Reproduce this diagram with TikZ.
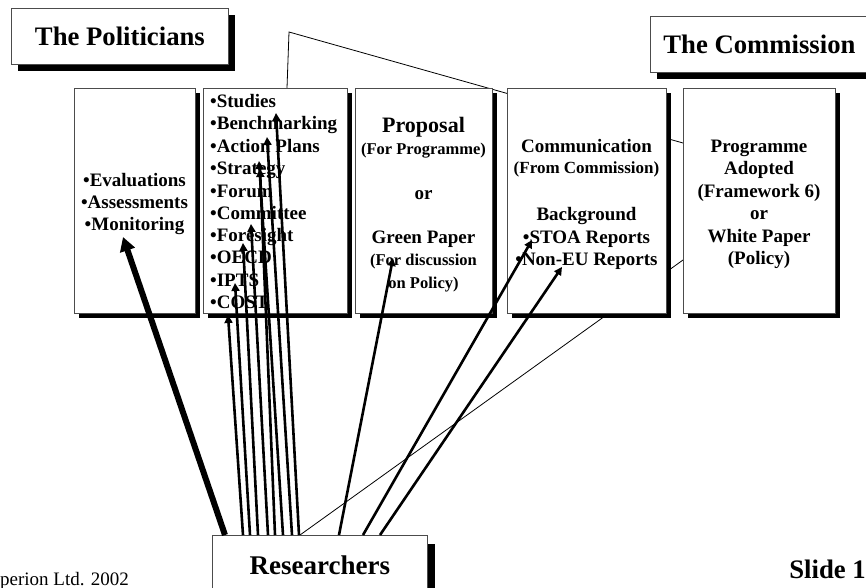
\documentclass[tikz,border=0pt]{standalone}
\usepackage{fontspec}
\setmainfont{Liberation Serif}
\usetikzlibrary{arrows.meta,shadows,calc}
\pgfdeclarelayer{bg}
\pgfsetlayers{bg,main}
\begin{document}
\begin{tikzpicture}[x=1pt,y=-1pt,
  panel/.style={draw=black!70, line width=0.8pt, fill=white, anchor=north west, inner sep=0pt,
    minimum height=225pt,
    drop shadow={shadow xshift=5pt, shadow yshift=-5pt, fill=black, opacity=1}},
  titlebox/.style={draw=black!70, line width=0.8pt, fill=white, anchor=north west, inner sep=0pt,
    font=\fontsize{26.7}{30}\selectfont\bfseries,
    drop shadow={shadow xshift=7pt, shadow yshift=-7pt, fill=black, opacity=1}},
  resbox/.style={draw=black!70, line width=0.8pt, fill=white, anchor=north west, inner sep=0pt,
    font=\fontsize{27}{30}\selectfont\bfseries,
    drop shadow={shadow xshift=8pt, shadow yshift=-9pt, fill=black, opacity=1}},
  txt/.style={font=\fontsize{19}{22}\selectfont\bfseries, inner sep=0pt, anchor=base},
  item/.style={txt, anchor=base west},
  small/.style={font=\fontsize{16.5}{20}\selectfont\bfseries, inner sep=0pt, anchor=base},
  thin/.style={line width=0.8pt, black},
  thk/.style={line width=2.6pt, -{Triangle[length=8pt,width=8pt]}},
  heavy/.style={line width=6pt, -{Triangle[length=14pt,width=15pt]}}
]
\clip (0,0) rectangle (866,588);

% title boxes
\node[titlebox, minimum width=217pt, minimum height=56pt] (pol) at (11,8) {The Politicians};
\node[titlebox, minimum width=218pt, minimum height=56pt] (com) at (650,16) {The Commission};

% panels
\node[panel, minimum width=121pt] (b1) at (74,88) {};
\node[panel, minimum width=144pt] (b2) at (203,88) {};
\node[panel, minimum width=137pt] (b3) at (355,88) {};
\node[panel, minimum width=159pt] (b4) at (507,88) {};
\node[panel, minimum width=152pt] (b5) at (683,88) {};

% researchers
\node[resbox, minimum width=215pt, minimum height=60pt] (res) at (212,535) {Researchers};

% thin lines behind
\begin{pgfonlayer}{bg}
  \coordinate (peak) at (289,32);
  \draw[thin] ($(b2.north west)+(84,0)$) -- (peak) -- ($(b5.north west)+(0,55)$);
  \draw[thin] ($(res.north west)+(88,0)$) -- ($(b5.north west)+(0,172)$);
\end{pgfonlayer}

% box 1 text
\node[txt] (e1) at (134.5,186) {•Evaluations};
\node[txt] (e2) at (134.5,208) {•Assessments};
\node[txt] (e3) at (134.5,230) {•Monitoring};

% box 2 items
\node[item] (i1) at (210,108) {•Studies};
\node[item] (i2) at (210,130) {•Benchmarking};
\node[item] (i3) at (210,152.5) {•Action Plans};
\node[item] (i4) at (210,175) {•Strategy};
\node[item] (i5) at (210,197) {•Forum};
\node[item] (i6) at (210,219) {•Committee};
\node[item] (i7) at (210,241) {•Foresight};
\node[item] (i8) at (210,263.5) {•OECD};
\node[item] (i9) at (210,286) {•IPTS};
\node[item] (i10) at (210,308) {•COST};

% box 3 text
\node[txt, font=\fontsize{22}{24}\selectfont\bfseries] (p1) at (423.5,133) {Proposal};
\node[small] (p2) at (423.5,154) {(For Programme)};
\node[txt] (p3) at (423.5,199) {or};
\node[txt] (p4) at (423.5,243) {Green Paper};
\node[small] (p5) at (423.5,265) {(For discussion};
\node[small] (p6) at (423.5,288) {on Policy)};

% box 4 text
\node[txt] (c1) at (586.5,153) {Communication};
\node[small, font=\fontsize{17}{20}\selectfont\bfseries] (c2) at (586.5,174) {(From Commission)};
\node[txt] (c3) at (586.5,220) {Background};
\node[txt] (c4) at (586.5,243) {•STOA Reports};
\node[txt] (c5) at (586.5,265) {•Non-EU Reports};

% box 5 text
\node[txt] (g1) at (759,153) {Programme};
\node[txt] (g2) at (759,175) {Adopted};
\node[txt] (g3) at (759,197) {(Framework 6)};
\node[txt] (g4) at (759,219) {or};
\node[txt] (g5) at (759,242) {White Paper};
\node[txt] (g6) at (759,264) {(Policy)};

% footer
\node[anchor=base west, font=\fontsize{19}{22}\selectfont, inner sep=0pt] (copy) at (0,585) {perion Ltd. 2002};
\node[anchor=base east, font=\fontsize{26.7}{30}\selectfont\bfseries, inner sep=0pt] (slide) at (866,578) {Slide 1};

% arrow targets
\coordinate (tMon) at (123,237);
\coordinate (tStu) at (276,113);
\coordinate (tBen) at (267,137);
\coordinate (tAct) at (259,161);
\coordinate (tStr) at (260,169);
\coordinate (tCom) at (251,224);
\coordinate (tFor) at (243,243);
\coordinate (tIPT) at (235,283);
\coordinate (tCOS) at (228,315);
\coordinate (tGre) at (393,258);
\coordinate (tSTO) at (532,240);
\coordinate (tNon) at (562,267);

% arrows
\draw[heavy] ($(res.north west)+(13,0)$) -- (tMon);
\draw[thk] ($(res.north west)+(31,0)$) -- (tCOS);
\draw[thk] ($(res.north west)+(38,0)$) -- (tIPT);
\draw[thk] ($(res.north west)+(46,0)$) -- (tFor);
\draw[thk] ($(res.north west)+(56,0)$) -- (tCom);
\draw[thk] ($(res.north west)+(63,0)$) -- (tStr);
\draw[thk] ($(res.north west)+(71,0)$) -- (tAct);
\draw[thk] ($(res.north west)+(80,0)$) -- (tBen);
\draw[thk] ($(res.north west)+(87,0)$) -- (tStu);
\draw[thk] ($(res.north west)+(127,0)$) -- (tGre);
\draw[thk] ($(res.north west)+(151,0)$) -- (tSTO);
\draw[thk] ($(res.north west)+(168,0)$) -- (tNon);
\end{tikzpicture}
\end{document}
